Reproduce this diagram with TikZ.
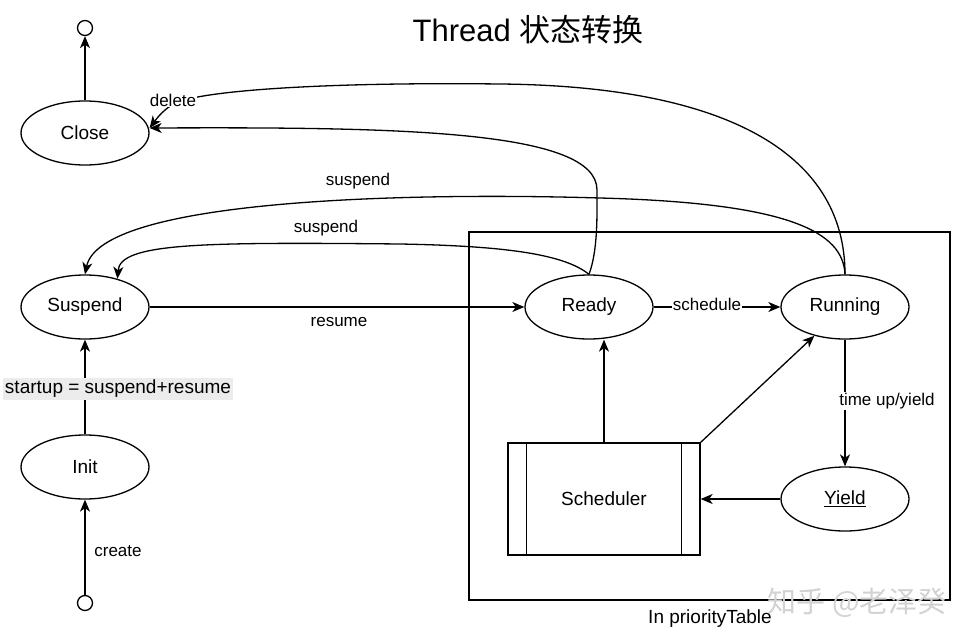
\documentclass[tikz,border=0pt]{standalone}
\usepackage{fontspec}
\setmainfont{Liberation Sans}
\newfontfamily\cjk{Noto Sans CJK SC}
\usetikzlibrary{shapes.geometric,arrows.meta}
\begin{document}
\begin{tikzpicture}[x=1pt,y=-1pt,line width=1.3pt,
  >={Stealth[length=12pt,width=10pt,inset=3.5pt]},
  state/.style={ellipse,draw,minimum width=128pt,minimum height=64pt,inner sep=0pt,font=\fontsize{19}{21}\selectfont},
  lbl/.style={font=\fontsize{17}{19}\selectfont,inner sep=1pt},
  biglbl/.style={font=\fontsize{19}{21}\selectfont,inner sep=1pt},
  term/.style={circle,draw,minimum size=15pt,inner sep=0pt}]
\useasboundingbox (0,0) rectangle (955,642);
\fill[white] (0,0) rectangle (955,642);
% title
\node (title) at (528,30) {\fontsize{31}{34}\selectfont Thread {\cjk 状态转换}};
% container
\node[draw,minimum width=481pt,minimum height=368pt,inner sep=0pt] (table) at (709.5,416) {};
\node[biglbl] (tablelbl) at (710,619) {In priorityTable};
% states
\node[term] (top) at (85,28) {};
\node[state] (close) at (85,133) {Close};
\node[state] (suspend) at (85,307) {Suspend};
\node[state] (init) at (85,467) {Init};
\node[term] (bot) at (85,603) {};
\node[state] (ready) at (589,307) {Ready};
\node[state] (running) at (845,307) {Running};
\node[state] (yield) at (845,499) {\underline{Yield}};
\node[draw,minimum width=192pt,minimum height=112pt,inner sep=0pt,font=\fontsize{19}{21}\selectfont] (sched) at (604,499) {Scheduler};
\draw ([xshift=19pt]sched.north west) -- ([xshift=19pt]sched.south west);
\draw ([xshift=-19pt]sched.north east) -- ([xshift=-19pt]sched.south east);
% coordinates
\coordinate (cl) at ([yshift=5pt]close.east);
\coordinate (sp) at (suspend.41);
% straight connectors
\draw[->] (close) -- (top);
\draw[->] (bot) -- (init);
\node[lbl] (create) at (118,551) {create};
\draw[->] (init) -- (suspend);
\node[biglbl,fill=gray!15,inner sep=2pt] (startup) at (118,389) {startup = suspend+resume};
\draw[->] (suspend) -- (ready);
\node[lbl] (resume) at (339,322) {resume};
\draw[->] (ready) -- (running);
\node[lbl,fill=white] (schedule) at (707,304) {schedule};
\draw[->] (running) -- (yield);
\node[lbl,fill=white] (timeup) at (887,401) {time up/yield};
\draw[->] (yield) -- (sched.east |- yield.west);
\draw[->] (sched.north) -- (sched.north |- ready.south);
\draw[->] (sched.north east) -- (running);
% curved connectors
\draw[->] (ready.north) .. controls (598,250) and (597,215) .. (597,190)
  .. controls (597,130) and (400,127) .. (cl);
\draw[->] (running.north) .. controls (845,150) and (720,86) .. (500,84)
  .. controls (330,82) and (210,90) .. (178,102)
  .. controls (168,106) and (160,114) .. (cl);
\node[lbl,fill=white] (delete) at (173,100) {delete};
\draw[->] (running.north) .. controls (843,232) and (790,203) .. (600,198)
  .. controls (400,192) and (100,200) .. (suspend.north);
\node[lbl] (suspend1) at (358,181) {suspend};
\draw[->] (ready.north) .. controls (565,255) and (510,246) .. (400,244)
  .. controls (200,242) and (120,243) .. (sp);
\node[lbl] (suspend2) at (326,228) {suspend};
% watermark
\node[text=gray!35] (wm) at (857,603) {\cjk\fontsize{29}{31}\selectfont 知乎 @老泽癸};
\end{tikzpicture}
\end{document}
